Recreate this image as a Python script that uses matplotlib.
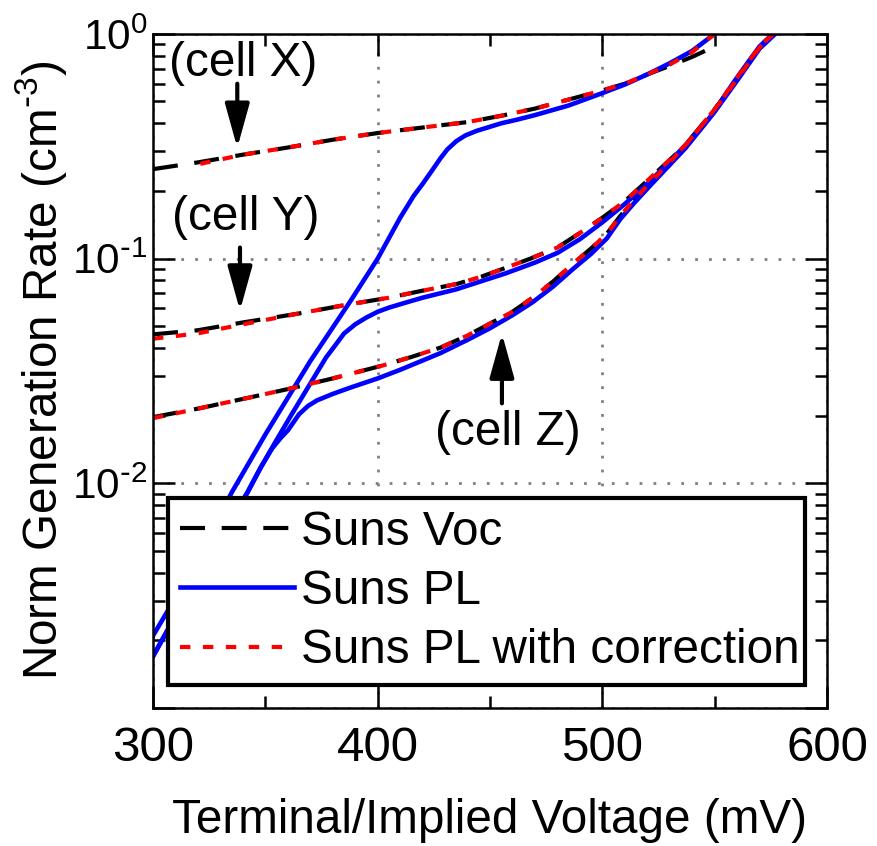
import numpy as np
import matplotlib
matplotlib.use("Agg")
import matplotlib.pyplot as plt
from matplotlib.ticker import LogLocator, FixedLocator, FuncFormatter, NullFormatter

plt.rcParams["font.family"] = ["Liberation Sans", "DejaVu Sans"]
plt.rcParams["mathtext.default"] = "regular"
FS = 34.3
TFS = 35.5
YFS = 30.5

# %% data (voltage in mV, normalised generation rate)
# cell X
vx_voc = [300, 320, 340, 360, 380, 400, 420, 440, 455, 470, 485, 500, 510, 520, 530, 540, 549]
gx_voc = [0.250, 0.268, 0.290, 0.312, 0.338, 0.362, 0.383, 0.405, 0.432, 0.465, 0.51, 0.56,
          0.60, 0.66, 0.72, 0.79, 0.87]
vx_pl = [300, 310, 320, 335, 350, 370, 388, 400, 410, 416, 420, 424, 428, 431, 435, 439, 444,
         450, 455, 462, 470, 485, 500, 510, 520, 530, 540, 550]
gx_pl = [0.0021, 0.0031, 0.0046, 0.0091, 0.0165, 0.035, 0.065, 0.100, 0.152, 0.19, 0.215,
         0.245, 0.28, 0.306, 0.333, 0.353, 0.37, 0.386, 0.40, 0.415, 0.435, 0.48, 0.545, 0.595,
         0.66, 0.74, 0.84, 1.0]
vx_cor = [321, 340, 360, 380, 400, 420, 440, 455, 470, 485, 500, 510, 520, 530, 540, 550]
gx_cor = [0.264, 0.290, 0.312, 0.338, 0.362, 0.383, 0.405, 0.432, 0.465, 0.51, 0.56, 0.60,
          0.66, 0.73, 0.83, 1.0]

# cell Y
vy_voc = [300, 320, 340, 365, 385, 405, 420, 435, 446, 457, 468, 480, 490, 500, 510, 520, 530,
          537, 545, 552, 558, 565, 570, 576]
gy_voc = [0.046, 0.048, 0.052, 0.057, 0.062, 0.067, 0.072, 0.077, 0.083, 0.091, 0.100, 0.112,
          0.130, 0.152, 0.18, 0.222, 0.275, 0.32, 0.40, 0.49, 0.60, 0.75, 0.88, 1.0]
vy_pl = [300, 320, 342, 348, 355, 362, 370, 377, 381, 385, 390, 395, 400, 405, 412, 420, 435,
         457, 470, 480, 490, 500, 510, 520, 530, 543, 550, 558, 565, 570, 576]
gy_pl = [0.0017, 0.0039, 0.0091, 0.0118, 0.0156, 0.0205, 0.0278, 0.0363, 0.041, 0.0464,
         0.051, 0.0547, 0.058, 0.0605, 0.0635, 0.067, 0.073, 0.086, 0.096, 0.106, 0.122, 0.145,
         0.175, 0.215, 0.27, 0.37, 0.45, 0.60, 0.75, 0.88, 1.0]
vy_cor = vy_voc
gy_cor = [0.044, 0.0465, 0.051, 0.057, 0.062, 0.067, 0.072, 0.077, 0.083, 0.091, 0.100, 0.112,
          0.130, 0.152, 0.18, 0.222, 0.275, 0.32, 0.40, 0.49, 0.60, 0.75, 0.88, 1.0]

# cell Z
vz_voc = [300, 321, 343, 361, 380, 402, 415, 428, 440, 450, 460, 469, 478, 487, 495, 502, 508,
          514, 522, 529, 537, 545, 552, 560, 570, 576]
gz_voc = [0.0197, 0.0216, 0.0241, 0.0264, 0.0293, 0.0334, 0.0365, 0.0402, 0.0455, 0.0514,
          0.058, 0.067, 0.079, 0.095, 0.111, 0.129, 0.155, 0.182, 0.222, 0.262, 0.32, 0.40,
          0.49, 0.63, 0.87, 1.0]
vz_pl = [300, 320, 342, 348, 353, 357, 360, 365, 369, 373, 380, 388, 400, 410, 428, 440, 450,
         460, 469, 478, 487, 495, 502, 508, 514, 522, 529, 537, 545, 552, 560, 570, 577]
gz_pl = [0.0017, 0.0039, 0.0091, 0.0118, 0.0143, 0.016, 0.0172, 0.0203, 0.0221, 0.0234,
         0.0250, 0.0267, 0.0293, 0.032, 0.038, 0.0435, 0.049, 0.056, 0.064, 0.075, 0.090,
         0.105, 0.123, 0.15, 0.176, 0.215, 0.255, 0.31, 0.39, 0.48, 0.62, 0.86, 1.0]
vz_cor = vz_voc
gz_cor = [0.0195, 0.0216, 0.0241, 0.0264, 0.0293, 0.0334, 0.0365, 0.0402, 0.0455, 0.0514,
          0.058, 0.067, 0.079, 0.095, 0.111, 0.129, 0.155, 0.182, 0.222, 0.262, 0.32, 0.40,
          0.49, 0.63, 0.87, 1.0]

# annotations: text, arrow x, tail y, tip y, text y
notes = [("(cell X)", 337.5, 0.60, 0.311, 0.74),
         ("(cell Y)", 338.7, 0.112, 0.0587, 0.152),
         ("(cell Z)", 455.3, 0.0227, 0.0464, 0.0169)]

# %% plot
fig = plt.figure(figsize=(8.77, 8.46), dpi=100)
ax = fig.add_axes([0.1745, 0.163, 0.7685, 0.797])

voc_style = dict(color="k", lw=3, ls=(0, (6, 4)))
pl_style = dict(color="#0000ff", lw=3.3, ls="-")
cor_style = dict(color="#ff0000", lw=3, ls=(0, (2.5, 3)))

for v, g, lab in [(vx_voc, gx_voc, "Suns Voc"), (vy_voc, gy_voc, None), (vz_voc, gz_voc, None)]:
    ax.plot(v, g, label=lab, **voc_style)
for v, g, lab in [(vx_pl, gx_pl, "Suns PL"), (vy_pl, gy_pl, None), (vz_pl, gz_pl, None)]:
    ax.plot(v, g, label=lab, **pl_style)
for v, g, lab in [(vx_cor, gx_cor, "Suns PL with correction"), (vy_cor, gy_cor, None),
                  (vz_cor, gz_cor, None)]:
    ax.plot(v, g, label=lab, **cor_style)

ax.set_yscale("log")
ax.set_xlim(300, 600)
ax.set_ylim(1e-3, 1)

ax.xaxis.set_major_locator(FixedLocator([300, 400, 500, 600]))
ax.xaxis.set_minor_locator(FixedLocator([350, 450, 550]))
ax.yaxis.set_major_locator(LogLocator(base=10))
ax.yaxis.set_minor_locator(LogLocator(base=10, subs=np.arange(2, 10)))
ax.yaxis.set_minor_formatter(NullFormatter())


def ylab(val, pos):
    e = int(round(np.log10(val)))
    if e < -2:
        return ""
    if e < 0:
        return r"$10^{\text{-}%d}$" % (-e)
    return r"$10^{%d}$" % e


ax.yaxis.set_major_formatter(FuncFormatter(ylab))

ax.tick_params(which="both", direction="in", top=True, right=True, width=1.8)
ax.tick_params(which="major", length=16)
ax.tick_params(which="minor", length=8.5)
ax.tick_params(axis="x", which="major", labelsize=TFS, pad=13)
ax.tick_params(axis="y", which="major", labelsize=YFS, pad=4)
for s in ax.spines.values():
    s.set_linewidth(1.8)

ax.grid(True, which="major", color="#808080", ls=(0, (1, 4)), lw=2)

ax.set_xlabel("Terminal/Implied Voltage (mV)", fontsize=FS)
ax.set_ylabel(r"Norm Generation Rate (cm$^{\text{-}3}$)", fontsize=FS)
ax.xaxis.set_label_coords(0.5, -0.134)
ax.yaxis.set_label_coords(-0.125, 0.5)

for txt, xa, y0, y1, yt in notes:
    ax.annotate("", xy=(xa, y1), xytext=(xa, y0),
                arrowprops=dict(arrowstyle="-|>,head_length=2.7,head_width=0.75",
                                color="k", lw=3, shrinkA=0, shrinkB=0, mutation_scale=10))
    ax.text(xa + 2.5, yt, txt, fontsize=FS, ha="center", va="center")

leg = ax.legend(loc="lower left", bbox_to_anchor=(0.022, 0.034, 0.945, 0.28), mode="expand",
                fontsize=FS, frameon=True, fancybox=False, framealpha=1, edgecolor="k",
                handlelength=2.4, handletextpad=0.15, labelspacing=0.3, borderpad=0.25,
                borderaxespad=0)
leg.get_frame().set_linewidth(3)

fig.savefig("out.png", dpi=100)
